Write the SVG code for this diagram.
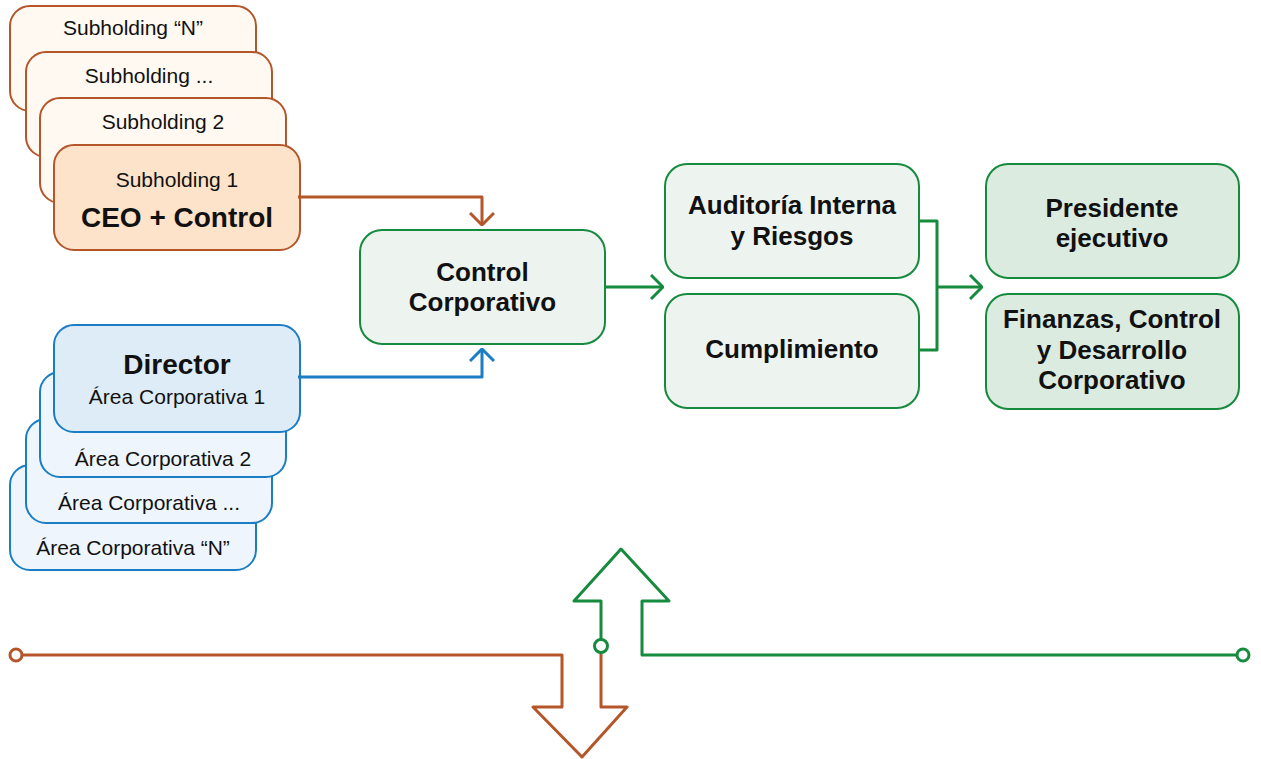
<svg xmlns="http://www.w3.org/2000/svg" width="1261" height="759" viewBox="0 0 1261 759">
<defs>
<style>
text{font-family:"Liberation Sans",Arial,sans-serif;fill:#111;text-anchor:middle}
.t{font-size:21px}
.b{font-size:26px;font-weight:bold}
.bb{font-size:28px;font-weight:bold}
.ob{fill:#fff9f2;stroke:#b4562a;stroke-width:2}
.om{fill:#fce3c9;stroke:#b4562a;stroke-width:2}
.bl{fill:#eef5fc;stroke:#1b7dc4;stroke-width:2}
.bm{fill:#deecf8;stroke:#1b7dc4;stroke-width:2}
.gl{fill:#edf4ef;stroke:#168a3d;stroke-width:2}
.gd{fill:#dcebe0;stroke:#168a3d;stroke-width:2}
.c{fill:none;stroke-width:3;stroke-linejoin:round}
</style>
<marker id="ao" viewBox="0 0 14 26" refX="13" refY="13" markerWidth="14" markerHeight="26" markerUnits="userSpaceOnUse" orient="auto"><path d="M1,1 L13,13 L1,25" fill="none" stroke="#b4562a" stroke-width="3"/></marker>
<marker id="ab" viewBox="0 0 14 26" refX="13" refY="13" markerWidth="14" markerHeight="26" markerUnits="userSpaceOnUse" orient="auto"><path d="M1,1 L13,13 L1,25" fill="none" stroke="#1b7dc4" stroke-width="3"/></marker>
<marker id="ag" viewBox="0 0 14 26" refX="13" refY="13" markerWidth="14" markerHeight="26" markerUnits="userSpaceOnUse" orient="auto"><path d="M1,1 L13,13 L1,25" fill="none" stroke="#168a3d" stroke-width="3"/></marker>
</defs>
<rect width="1261" height="759" fill="#fff"/>

<g id="subN"><rect class="ob" x="10" y="6" width="246" height="105" rx="20"/><text class="t" x="133" y="35">Subholding “N”</text></g>
<g id="subDots"><rect class="ob" x="26" y="52" width="246" height="105" rx="20"/><text class="t" x="149" y="83">Subholding ...</text></g>
<g id="sub2"><rect class="ob" x="40" y="98" width="246" height="105" rx="20"/><text class="t" x="163" y="129">Subholding 2</text></g>
<g id="sub1"><rect class="om" x="54" y="145" width="246" height="105" rx="20"/><text class="t" x="177" y="187">Subholding 1</text><text class="bb" x="177" y="227">CEO + Control</text></g>

<g id="areaN"><rect class="bl" x="10" y="465" width="246" height="105" rx="20"/><text class="t" x="133" y="555">Área Corporativa “N”</text></g>
<g id="areaDots"><rect class="bl" x="26" y="419" width="246" height="104" rx="20"/><text class="t" x="149" y="510">Área Corporativa ...</text></g>
<g id="area2"><rect class="bl" x="40" y="372" width="246" height="105" rx="20"/><text class="t" x="163" y="466">Área Corporativa 2</text></g>
<g id="area1"><rect class="bm" x="54" y="325" width="246" height="107" rx="20"/><text class="bb" x="177" y="374">Director</text><text class="t" x="177" y="404">Área Corporativa 1</text></g>

<g id="control"><rect class="gl" x="360" y="230" width="245" height="114" rx="22"/><text class="b" x="482.5" y="281">Control</text><text class="b" x="482.5" y="311">Corporativo</text></g>
<g id="auditoria"><rect class="gl" x="665" y="164" width="254" height="114" rx="22"/><text class="b" x="792" y="214">Auditoría Interna</text><text class="b" x="792" y="245">y Riesgos</text></g>
<g id="cumplimiento"><rect class="gl" x="665" y="294" width="254" height="114" rx="22"/><text class="b" x="792" y="358">Cumplimiento</text></g>
<g id="presidente"><rect class="gd" x="986" y="164" width="253" height="114" rx="22"/><text class="b" x="1112" y="217">Presidente</text><text class="b" x="1112" y="247">ejecutivo</text></g>
<g id="finanzas"><rect class="gd" x="986" y="294" width="253" height="115" rx="22"/><text class="b" x="1112" y="328">Finanzas, Control</text><text class="b" x="1112" y="359">y Desarrollo</text><text class="b" x="1112" y="389">Corporativo</text></g>

<g id="connectors">
<path class="c" stroke="#b4562a" d="M298,197 H482 V225" marker-end="url(#ao)"/>
<path class="c" stroke="#1b7dc4" d="M298,377 H482 V349" marker-end="url(#ab)"/>
<path class="c" stroke="#168a3d" d="M605,287 H663" marker-end="url(#ag)"/>
<path class="c" stroke="#168a3d" d="M919,221 H937 V350 H919"/>
<path class="c" stroke="#168a3d" d="M937,287 H982" marker-end="url(#ag)"/>
<path class="c" stroke="#b4562a" d="M22,655 H562 V707 H533 L582,757 L627,707 H601 V652.5"/>
<circle cx="16" cy="655" r="6" fill="#fff" stroke="#b4562a" stroke-width="3"/>
<path class="c" stroke="#168a3d" d="M601,639.5 V601 H574 L621,549 L669,601 H642 V655 H1237"/>
<circle cx="601" cy="646" r="6.5" fill="#fff" stroke="#168a3d" stroke-width="3"/>
<circle cx="1243" cy="655" r="6" fill="#fff" stroke="#168a3d" stroke-width="3"/>
</g>
</svg>
